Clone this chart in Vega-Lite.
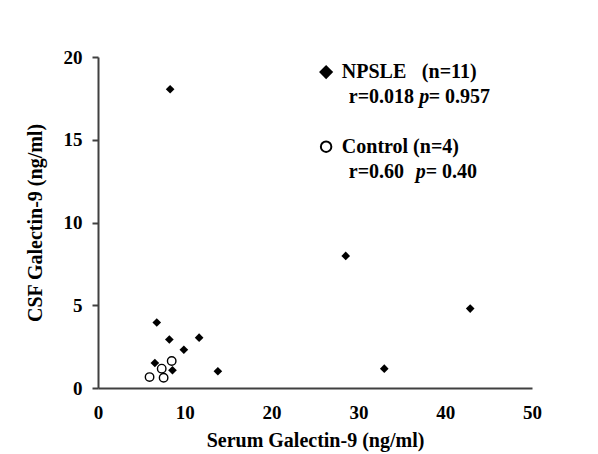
{
  "$schema": "https://vega.github.io/schema/vega-lite/v6.json",
  "width": 434,
  "height": 331,
  "autosize": {"type": "none"},
  "padding": {"left": 98, "top": 57, "right": 66, "bottom": 66},
  "background": "white",
  "config": {
    "font": "Liberation Serif",
    "view": {"stroke": null}
  },
  "datasets": {
    "points": [
      {"group": "NPSLE", "x": 8.31, "y": 18.05},
      {"group": "NPSLE", "x": 28.54, "y": 7.98},
      {"group": "NPSLE", "x": 42.88, "y": 4.80},
      {"group": "NPSLE", "x": 6.77, "y": 3.96},
      {"group": "NPSLE", "x": 8.22, "y": 2.93},
      {"group": "NPSLE", "x": 11.65, "y": 3.04},
      {"group": "NPSLE", "x": 9.89, "y": 2.31},
      {"group": "NPSLE", "x": 6.55, "y": 1.51},
      {"group": "NPSLE", "x": 8.58, "y": 1.07},
      {"group": "NPSLE", "x": 13.81, "y": 1.01},
      {"group": "NPSLE", "x": 32.98, "y": 1.17},
      {"group": "Control", "x": 5.94, "y": 0.66},
      {"group": "Control", "x": 7.56, "y": 0.62},
      {"group": "Control", "x": 7.34, "y": 1.17},
      {"group": "Control", "x": 8.49, "y": 1.63}
    ],
    "legendSymbols": [
      {"group": "NPSLE", "x": 26.28, "y": 19.09},
      {"group": "Control", "x": 26.28, "y": 14.58}
    ],
    "legendText": [
      {"t": "NPSLE", "x": 28.09, "y": 19.09, "style": "normal"},
      {"t": "(n=11)", "x": 37.31, "y": 19.09, "style": "normal"},
      {"t": "r=0.018", "x": 28.89, "y": 17.57, "style": "normal"},
      {"t": "p", "x": 37.0, "y": 17.57, "style": "italic"},
      {"t": "= 0.957", "x": 38.1, "y": 17.57, "style": "normal"},
      {"t": "Control (n=4)", "x": 28.09, "y": 14.58, "style": "normal"},
      {"t": "r=0.60", "x": 28.89, "y": 13.07, "style": "normal"},
      {"t": "p", "x": 36.6, "y": 13.07, "style": "italic"},
      {"t": "= 0.40", "x": 37.75, "y": 13.07, "style": "normal"}
    ]
  },
  "encoding": {
    "x": {
      "field": "x", "type": "quantitative",
      "scale": {"domain": [0, 50], "nice": false},
      "title": "Serum Galectin-9 (ng/ml)",
      "axis": {
        "values": [0, 10, 20, 30, 40, 50], "grid": false, "ticks": false, "tickSize": 0,
        "domainColor": "#404040", "domainWidth": 2, "labelFlush": false,
        "labelFont": "Liberation Serif", "labelFontSize": 19, "labelFontWeight": "bold", "labelColor": "black", "labelPadding": 15,
        "titleFont": "Liberation Serif", "titleFontSize": 20, "titleFontWeight": "bold", "titleColor": "black", "titlePadding": 8
      }
    },
    "y": {
      "field": "y", "type": "quantitative",
      "scale": {"domain": [0, 20], "nice": false},
      "title": "CSF Galectin-9 (ng/ml)",
      "axis": {
        "values": [0, 5, 10, 15, 20], "grid": false, "ticks": true, "tickSize": 6, "tickColor": "#404040", "tickWidth": 2,
        "domainColor": "#404040", "domainWidth": 2, "labelFlush": false,
        "labelFont": "Liberation Serif", "labelFontSize": 19, "labelFontWeight": "bold", "labelColor": "black", "labelPadding": 10,
        "titleFont": "Liberation Serif", "titleFontSize": 20, "titleFontWeight": "bold", "titleColor": "black", "titlePadding": 18
      }
    }
  },
  "layer": [
    {
      "data": {"name": "points"},
      "transform": [{"filter": "datum.group === 'NPSLE'"}],
      "mark": {"type": "point", "shape": "diamond", "filled": true, "color": "black", "size": 75, "opacity": 1}
    },
    {
      "data": {"name": "points"},
      "transform": [{"filter": "datum.group === 'Control'"}],
      "mark": {"type": "point", "shape": "circle", "filled": false, "fill": "white", "stroke": "black", "strokeWidth": 1.4, "size": 72, "opacity": 1}
    },
    {
      "data": {"name": "legendSymbols"},
      "transform": [{"filter": "datum.group === 'NPSLE'"}],
      "mark": {"type": "point", "shape": "diamond", "filled": true, "color": "black", "size": 200, "opacity": 1}
    },
    {
      "data": {"name": "legendSymbols"},
      "transform": [{"filter": "datum.group === 'Control'"}],
      "mark": {"type": "point", "shape": "circle", "filled": false, "fill": "white", "stroke": "black", "strokeWidth": 2, "size": 110, "opacity": 1}
    },
    {
      "data": {"name": "legendText"},
      "transform": [{"filter": "datum.style === 'normal'"}],
      "mark": {"type": "text", "align": "left", "baseline": "middle", "fontSize": 20, "fontWeight": "bold", "font": "Liberation Serif", "color": "black"},
      "encoding": {"text": {"field": "t"}}
    },
    {
      "data": {"name": "legendText"},
      "transform": [{"filter": "datum.style === 'italic'"}],
      "mark": {"type": "text", "align": "left", "baseline": "middle", "fontSize": 20, "fontWeight": "bold", "fontStyle": "italic", "font": "Liberation Serif", "color": "black"},
      "encoding": {"text": {"field": "t"}}
    }
  ]
}
